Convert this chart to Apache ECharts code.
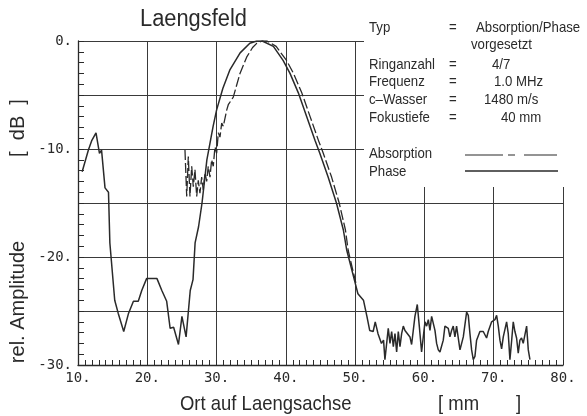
<!DOCTYPE html>
<html>
<head>
<meta charset="utf-8">
<script src="https://cdn.jsdelivr.net/npm/echarts@6/dist/echarts.min.js"></script>
<style>
html, body { margin: 0; padding: 0; background: #fff; }
#chart { width: 587px; height: 416px; }
</style>
</head>
<body>
<div id="chart"></div>
<script>
// Phase (solid) : position in mm / rel. amplitude in dB
const posPhase = [10.6, 11.5, 12.0, 12.6, 13.1, 13.4, 13.9, 14.4, 14.6, 15.3, 15.8, 16.6, 17.3, 18.0, 18.7, 19.2, 19.9,
	21.4, 22.1, 22.8, 23.3, 23.8, 24.5, 25.0, 25.6, 26.2, 26.6, 26.9, 27.4, 27.9, 28.6, 29.5, 30.0, 30.9, 31.9,
	33.4, 34.8, 35.8, 36.6, 38.2, 39.6, 40.6, 41.8, 43.0, 44.2, 44.9, 46.1, 47.3, 48.3, 48.8, 50.0, 50.4, 51.2,
	51.7, 52.1, 52.6, 52.9, 53.3, 53.8, 54.1, 54.3,
	54.78, 55.03, 55.27, 55.51, 55.75, 55.99, 56.23, 56.47, 56.71, 56.95, 57.19, 57.43, 57.91, 58.15, 58.63, 58.97,
	59.26, 59.59, 60.08, 60.32, 60.56, 60.80, 61.04, 61.28, 61.52, 61.76, 62.00, 62.24, 62.72, 62.96, 63.44, 63.68,
	63.92, 64.16, 64.40, 64.64, 65.13, 65.61, 66.09, 66.33, 66.57, 66.81, 67.05, 67.29, 67.53, 68.01, 68.49, 68.97,
	69.21, 69.70, 70.18, 70.42, 70.66, 70.90, 71.14, 71.38, 71.86, 72.10, 72.34, 72.58, 72.82, 73.06, 73.30, 73.54,
	73.78, 74.02, 74.26, 74.50, 74.75, 74.99, 75.23];
const ampPhase = [-12.1, -10.1, -9.2, -8.5, -10.4, -10.1, -13.6, -14.0, -18.7, -24.0, -25.2, -26.9, -25.2, -24.1, -24.1, -23.1, -22.0,
	-22.0, -23.1, -24.1, -26.6, -26.5, -28.1, -25.5, -27.4, -23.1, -22.1, -18.7, -17.2, -15.0, -11.0, -7.9, -6.4, -4.4, -2.7,
	-1.1, -0.2, 0, 0, -0.5, -1.8, -3.0, -4.8, -7.0, -9.2, -10.4, -12.6, -15.0, -17.5, -19.4, -22.4, -23.4, -24.0,
	-25.5, -26.8, -26.9, -26.0, -27.1, -28.0, -27.7, -29.5,
	-26.6, -28.0, -26.9, -28.3, -27.1, -28.8, -26.9, -28.3, -27.1, -26.4, -26.8, -26.9, -27.4, -28.1, -25.5, -24.4,
	-26.4, -28.8, -26.0, -26.4, -25.8, -26.8, -25.5, -25.4, -26.8, -28.0, -28.6, -28.8, -27.7, -26.4, -26.6, -27.4,
	-26.8, -26.4, -27.4, -26.4, -28.6, -27.4, -25.1, -25.4, -27.1, -28.6, -29.5, -29.2, -27.7, -26.9, -26.9, -27.5,
	-26.9, -26.0, -25.8, -25.4, -26.4, -27.7, -28.5, -27.4, -26.0, -27.1, -29.5, -27.8, -26.0, -26.9, -27.5, -28.9,
	-27.7, -27.5, -28.0, -28.0, -26.4, -28.6, -29.5];

// Absorption (dashed)
const posAbs = [25.44, 25.69, 25.92, 26.16, 26.41, 26.64, 26.88, 27.13, 27.36, 27.60, 27.85, 28.08, 28.33, 28.57, 28.80,
	29.05, 29.29, 29.52, 29.77, 30.01, 30.25, 30.49, 30.74, 30.97, 31.46, 31.69, 32.41, 33.38, 34.34, 35.2, 35.83,
	36.55, 37.3, 38.6, 40.1, 41.1, 42.3, 43.5, 44.7, 45.4, 46.6, 47.7, 48.6, 49.0, 50.1];
const ampAbs = [-10.1, -14.4, -10.7, -14.4, -11.6, -13.5, -11.9, -14.4, -12.9, -14.1, -12.6, -13.8, -12.2, -13.0, -11.6,
	-12.6, -11.0, -11.6, -9.8, -10.4, -8.5, -8.9, -7.6, -7.9, -6.4, -5.9, -5.2, -3.0, -1.5, -0.6, -0.2,
	0, 0, -0.5, -1.8, -3.0, -4.8, -7.0, -9.2, -10.4, -12.6, -15.0, -17.5, -19.4, -22.4];

const infoLabels = ['Typ', 'Ringanzahl', 'Frequenz', 'c\u2013Wasser', 'Fokustiefe'];
const infoValues = ['Absorption/Phase', '4/7', '1.0 MHz', '1480 m/s', '40 mm'];

const toPairs = (xs, ys) => xs.map((x, i) => [x, ys[i]]);

const ink = '#2a2a2a';
const sans = '"Liberation Sans", Arial, sans-serif';

// narrow text: regular font squeezed horizontally
const txt = (text, x, y, size = 15, extra = {}) => ({
	type: 'text',
	x: x,
	y: y,
	z: 101,
	scaleX: 0.88,
	style: Object.assign({ text: text, font: size + 'px ' + sans, fill: ink, verticalAlign: 'middle' }, extra),
});

const infoY = [28, 65, 82, 100, 118];
const infoX = [476, 492, 494, 484, 501];

let graphics = [
	{ type: 'rect', z: 100, shape: { x: 364, y: 0, width: 223, height: 187 }, style: { fill: '#fff' } },
	Object.assign(txt('Laengsfeld', 140, 20, 23), { scaleX: 0.95 }),
	txt('vorgesetzt', 471, 45),
	txt('Absorption', 369, 154),
	txt('Phase', 369, 172),
	{ type: 'line', z: 101, shape: { x1: 465, y1: 155, x2: 557, y2: 155 },
		style: { stroke: ink, lineWidth: 1.2, lineDash: [38, 5, 7, 9] } },
	{ type: 'line', z: 101, shape: { x1: 465, y1: 171, x2: 558, y2: 171 },
		style: { stroke: ink, lineWidth: 1.5 } },
	txt('Ort auf Laengsachse', 180, 404, 21),
	txt('[ mm', 438, 404, 21),
	txt(']', 516, 404, 21),
	Object.assign(txt('rel. Amplitude', 18, 302, 20, { align: 'center' }), { rotation: Math.PI / 2, scaleX: 1 }),
	Object.assign(txt('[  dB  ]', 18, 128, 20, { align: 'center' }), { rotation: Math.PI / 2, scaleX: 1 }),
];

infoLabels.forEach((lab, i) => {
	graphics.push(txt(lab, 369, infoY[i]));
	graphics.push(txt('=', 449, infoY[i]));
	graphics.push(txt(infoValues[i], infoX[i], infoY[i]));
});

const myChart = echarts.init(document.getElementById('chart'));

const option = {
	animation: false,
	backgroundColor: '#fff',
	grid: { left: 78, right: 24, top: 41, bottom: 51, outerBoundsMode: 'none' },
	xAxis: {
		type: 'value',
		min: 10,
		max: 80,
		interval: 10,
		axisLine: { show: true, onZero: false, lineStyle: { color: ink, width: 1.3 } },
		axisTick: { show: true, inside: true, length: 5, lineStyle: { color: ink } },
		minorTick: { show: true, splitNumber: 10, length: 5, lineStyle: { color: ink, width: 1 } },
		splitLine: { show: true, lineStyle: { color: '#3a3a3a', width: 1 } },
		axisLabel: {
			formatter: (v) => v + '.',
			fontFamily: '"DejaVu Sans Mono", monospace',
			fontSize: 14,
			color: ink,
			margin: 6,
		},
	},
	yAxis: {
		type: 'value',
		min: -30,
		max: 0,
		interval: 5,
		axisLine: { show: true, onZero: false, lineStyle: { color: ink, width: 1.3 } },
		axisTick: { show: true, inside: true, length: 6, lineStyle: { color: ink } },
		minorTick: { show: true, splitNumber: 5, length: 6, lineStyle: { color: ink, width: 1 } },
		splitLine: { show: true, lineStyle: { color: '#3a3a3a', width: 1 } },
		axisLabel: {
			formatter: (v) => (v % 10 === 0 ? v + '.' : ''),
			fontFamily: '"DejaVu Sans Mono", monospace',
			fontSize: 14,
			color: ink,
			margin: 6,
		},
	},
	graphic: graphics,
	series: [
		{
			name: 'Phase',
			type: 'line',
			showSymbol: false,
			data: toPairs(posPhase, ampPhase),
			lineStyle: { color: ink, width: 1.5 },
			z: 5,
		},
		{
			name: 'Absorption',
			type: 'line',
			showSymbol: false,
			data: toPairs(posAbs, ampAbs),
			lineStyle: { color: ink, width: 1.3, type: [10, 3] },
			z: 4,
		},
	],
};

myChart.setOption(option);
</script>
</body>
</html>
